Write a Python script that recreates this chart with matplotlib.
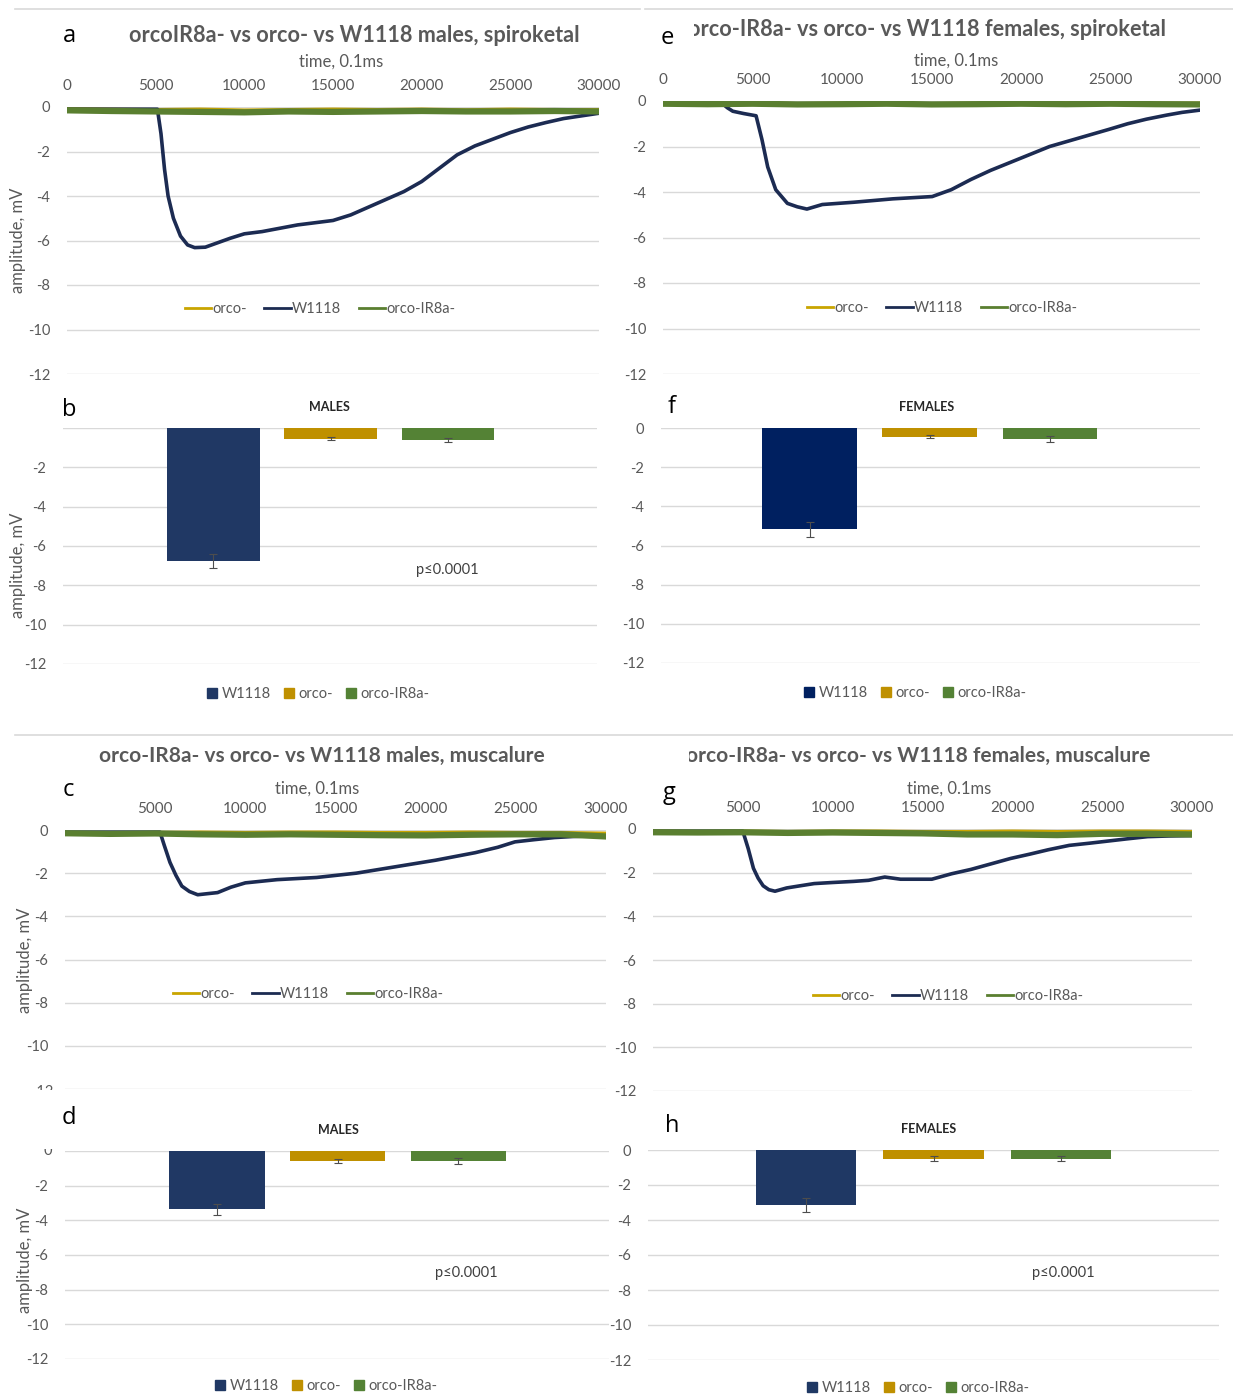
import matplotlib.pyplot as plt
from matplotlib.lines import Line2D
from matplotlib.transforms import Bbox, TransformedBbox

W, H = 1233, 1396
plt.rcParams['font.family'] = ['Lato', 'DejaVu Sans']

NAVY = '#1c2b52'
GOLD = '#c9a500'
GREEN = '#5a7f30'
GREY = '#595959'
GRID = '#d9d9d9'

strains = ['W1118', 'orco-', 'orco-IR8a-']
time_ticks = [0, 5000, 10000, 15000, 20000, 25000, 30000]
amp_ticks = [0, -2, -4, -6, -8, -10, -12]

# control strains stay flat near zero
t_flat = [0, 2500, 5000, 7500, 10000, 12500, 15000, 17500, 20000, 22500, 25000, 27500, 30000]
orco_a = [-0.08, -0.1, -0.12, -0.1, -0.14, -0.12, -0.1, -0.12, -0.1, -0.13, -0.1, -0.12, -0.12]
ir8a_a = [-0.15, -0.18, -0.2, -0.22, -0.24, -0.2, -0.22, -0.2, -0.18, -0.2, -0.2, -0.18, -0.2]
orco_e = [-0.1, -0.1, -0.08, -0.12, -0.1, -0.1, -0.12, -0.1, -0.1, -0.08, -0.1, -0.1, -0.1]
ir8a_e = [-0.12, -0.14, -0.12, -0.15, -0.14, -0.12, -0.15, -0.14, -0.12, -0.14, -0.12, -0.14, -0.15]
orco_c = [-0.12, -0.14, -0.12, -0.1, -0.12, -0.1, -0.1, -0.12, -0.12, -0.1, -0.12, -0.12, -0.15]
ir8a_c = [-0.15, -0.18, -0.16, -0.2, -0.22, -0.2, -0.22, -0.24, -0.25, -0.22, -0.2, -0.2, -0.3]
orco_g = [-0.1, -0.12, -0.1, -0.12, -0.1, -0.1, -0.12, -0.12, -0.1, -0.12, -0.1, -0.1, -0.12]
ir8a_g = [-0.15, -0.16, -0.15, -0.18, -0.16, -0.18, -0.2, -0.25, -0.25, -0.28, -0.22, -0.22, -0.25]

# W1118 responses, males/females x spiroketal/muscalure
t_a = [0, 5100, 5300, 5500, 5700, 6000, 6400, 6800, 7200, 7800, 8500, 9200, 10000, 11000,
       12000, 13000, 14000, 15000, 16000, 17000, 18000, 19000, 20000, 21000, 22000, 23000,
       24000, 25000, 26000, 27000, 28000, 29000, 30000]
v_a = [-0.1, -0.1, -1.2, -2.8, -4.0, -5.0, -5.8, -6.2, -6.32, -6.3, -6.1, -5.9, -5.7, -5.6,
       -5.45, -5.3, -5.2, -5.1, -4.85, -4.5, -4.15, -3.8, -3.35, -2.75, -2.15, -1.75,
       -1.45, -1.15, -0.9, -0.7, -0.52, -0.4, -0.28]

t_e = [0, 3300, 3600, 3900, 4500, 5200, 5530, 5850, 6300, 6950, 7500, 8040, 8900, 10660,
       12850, 15040, 16100, 17200, 18300, 19400, 20500, 21600, 22700, 23800, 24900, 25960,
       27000, 28140, 29000, 30000]
v_e = [-0.1, -0.1, -0.3, -0.45, -0.55, -0.65, -1.7, -2.9, -3.9, -4.5, -4.65, -4.75, -4.55, -4.45,
       -4.3, -4.2, -3.9, -3.45, -3.05, -2.7, -2.35, -2.0, -1.75, -1.5, -1.25, -1.0,
       -0.8, -0.62, -0.5, -0.4]

t_c = [0, 5270, 5500, 5820, 6150, 6480, 6900, 7360, 7900, 8460, 9200, 10000, 11760, 13950,
       16150, 18350, 20550, 22750, 24000, 24950, 26000, 27140, 28200, 29340, 30000]
v_c = [-0.1, -0.1, -0.7, -1.5, -2.1, -2.6, -2.85, -3.0, -2.95, -2.9, -2.65, -2.45, -2.3, -2.2,
       -2.0, -1.7, -1.4, -1.05, -0.8, -0.55, -0.45, -0.35, -0.3, -0.27, -0.3]

t_g = [0, 5000, 5300, 5590, 5850, 6130, 6450, 6790, 7440, 8200, 8970, 10000, 11160, 12000,
       12900, 13780, 14600, 15520, 16620, 17700, 18800, 19900, 20980, 22000, 23170, 24300,
       25350, 26400, 27530, 28700, 30000]
v_g = [-0.1, -0.1, -0.9, -1.8, -2.25, -2.6, -2.78, -2.85, -2.7, -2.6, -2.5, -2.45, -2.4, -2.35,
       -2.2, -2.3, -2.3, -2.3, -2.05, -1.85, -1.6, -1.35, -1.15, -0.95, -0.75, -0.65,
       -0.55, -0.45, -0.35, -0.32, -0.3]

# mean peak amplitudes and errors, order W1118 / orco- / orco-IR8a-
bar_b = [-6.78, -0.54, -0.61]
err_b = [0.35, 0.06, 0.1]
bar_f = [-5.18, -0.44, -0.56]
err_f = [0.37, 0.07, 0.14]
bar_d = [-3.37, -0.58, -0.58]
err_d = [0.3, 0.12, 0.15]
bar_h = [-3.17, -0.49, -0.49]
err_h = [0.4, 0.12, 0.12]

fig = plt.figure(figsize=(W / 100, H / 100), dpi=100)


def box(x0, y0, x1, y1):
    return [x0 / W, 1 - y1 / H, (x1 - x0) / W, (y1 - y0) / H]


def ptext(x, y, s, **kw):
    kw.setdefault('ha', 'center')
    kw.setdefault('va', 'center')
    return fig.text(x / W, 1 - y / H, s, **kw)


def clip(t, x0, y0, x1, y1):
    bb = Bbox.from_extents(x0 / W, 1 - y1 / H, x1 / W, 1 - y0 / H)
    t.set_clip_box(TransformedBbox(bb, fig.transFigure))
    t.set_clip_on(True)


def style(ax, ypad):
    for s in ax.spines.values():
        s.set_visible(False)
    ax.set_ylim(-12, 0)
    ax.set_yticks(amp_ticks)
    ax.grid(axis='y', color=GRID, lw=1)
    ax.set_axisbelow(True)
    ax.tick_params(length=0, colors=GREY, labelsize=10.5)
    ax.tick_params(axis='y', pad=ypad)


def trace(rect, t_w, v_w, orco, ir8a, ylabels, xlabels):
    ax = fig.add_axes(rect)
    ax.plot(t_flat, orco, color=GOLD, lw=2.4, label='orco-')
    ax.plot(t_w, v_w, color=NAVY, lw=2.6, label='W1118')
    ax.plot(t_flat, ir8a, color=GREEN, lw=4.5, label='orco-IR8a-')
    style(ax, 12)
    ax.set_xlim(0, 30000)
    ax.xaxis.tick_top()
    ax.set_xticks(time_ticks, xlabels)
    ax.set_yticklabels(ylabels)
    ax.tick_params(axis='x', pad=10, labelsize=11)
    return ax


def bars(rect, vals, errs, colors, xlim, ylabels):
    ax = fig.add_axes(rect)
    ax.bar(range(3), vals, width=0.79, color=colors, yerr=errs,
           error_kw=dict(ecolor='#4d4d4d', elinewidth=0.8, capsize=3, capthick=0.8))
    style(ax, 12)
    ax.set_xlim(*xlim)
    ax.set_xticks([])
    ax.set_yticklabels(ylabels)
    return ax


def line_legend(ax, x, y):
    h, l = ax.get_legend_handles_labels()
    h = [Line2D([], [], color=hh.get_color(), lw=2) for hh in h]
    fig.legend(h, l, loc='center', bbox_to_anchor=(x / W, 1 - y / H), ncol=3,
               frameon=False, fontsize=10.5, labelcolor=GREY, handlelength=1.8,
               handletextpad=0.1, columnspacing=1.2)


def bar_legend(colors, x, y):
    h = [Line2D([], [], marker='s', ls='none', color=c, markersize=7) for c in colors]
    fig.legend(h, strains, loc='center', bbox_to_anchor=(x / W, 1 - y / H), ncol=3,
               frameon=False, fontsize=10.5, labelcolor=GREY, handlelength=0.7,
               handletextpad=0.3, columnspacing=0.9)


ylab_all = ['0', '-2', '-4', '-6', '-8', '-10', '-12']
xlab_all = ['0', '5000', '10000', '15000', '20000', '25000', '30000']

# a - males, spiroketal
ax_a = trace(box(67, 107, 599, 374), t_a, v_a, orco_a, ir8a_a, ylab_all, xlab_all)
line_legend(ax_a, 320, 309)
ptext(354, 35, 'orcoIR8a- vs orco- vs W1118 males, spiroketal', fontsize=15.6,
      fontweight='bold', color=GREY)
ptext(341, 62, 'time, 0.1ms', fontsize=12, color=GREY)
ptext(18, 240, 'amplitude, mV', fontsize=12, color=GREY, rotation=90)

# e - females, spiroketal
ax_e = trace(box(663, 101, 1200, 374), t_e, v_e, orco_e, ir8a_e, ylab_all, xlab_all)
line_legend(ax_e, 942, 308)
t = ptext(1166, 30, 'orco-IR8a- vs orco- vs W1118 females, spiroketal', fontsize=15.6,
          fontweight='bold', color=GREY, ha='right')
clip(t, 694, 0, 1233, 60)
ptext(956, 61, 'time, 0.1ms', fontsize=12, color=GREY)

# c - males, muscalure
ax_c = trace(box(65, 830, 606, 1089), t_c, v_c, orco_c, ir8a_c,
             ylab_all[:-1] + [''], [''] + xlab_all[1:])
line_legend(ax_c, 308, 994)
ptext(322, 756, 'orco-IR8a- vs orco- vs W1118 males, muscalure', fontsize=15.0,
      fontweight='bold', color=GREY)
ptext(317, 789, 'time, 0.1ms', fontsize=12, color=GREY)
ptext(25, 960, 'amplitude, mV', fontsize=12, color=GREY, rotation=90)
t = ptext(53, 1092, '-12', fontsize=10.5, color=GREY, ha='right')
clip(t, 0, 1080, 120, 1090)

# g - females, muscalure
ax_g = trace(box(653, 829, 1192, 1091), t_g, v_g, orco_g, ir8a_g,
             ylab_all, [''] + xlab_all[1:])
line_legend(ax_g, 948, 996)
t = ptext(1150, 756, 'orco-IR8a- vs orco- vs W1118 females, muscalure', fontsize=15.0,
          fontweight='bold', color=GREY, ha='right')
clip(t, 689, 730, 1233, 780)
ptext(949, 789, 'time, 0.1ms', fontsize=12, color=GREY)

# b - males, spiroketal peak
bars(box(63, 428, 597, 664), bar_b, err_b, ['#203864', '#bf9000', '#548235'],
     (-1.28, 3.27), [''] + ylab_all[1:])
ptext(329, 407, 'MALES', fontsize=9, fontweight='bold', color='#262626')
ptext(447, 570, 'p≤0.0001', fontsize=10.5, color='#404040')
ptext(18, 565, 'amplitude, mV', fontsize=12, color=GREY, rotation=90)
bar_legend(['#203864', '#bf9000', '#548235'], 318, 694)

# f - females, spiroketal peak
bars(box(661, 428, 1200, 663), bar_f, err_f, ['#002060', '#bf9000', '#548235'],
     (-1.24, 3.25), ylab_all)
ptext(927, 407, 'FEMALES', fontsize=9, fontweight='bold', color='#262626')
bar_legend(['#002060', '#bf9000', '#548235'], 915, 693)

# d - males, muscalure peak
bars(box(65, 1151, 609, 1359), bar_d, err_d, ['#203864', '#bf9000', '#548235'],
     (-1.26, 3.25), [''] + ylab_all[1:])
ptext(338, 1130, 'MALES', fontsize=9, fontweight='bold', color='#262626')
ptext(466, 1273, 'p≤0.0001', fontsize=10.5, color='#404040')
ptext(25, 1260, 'amplitude, mV', fontsize=12, color=GREY, rotation=90)
t = ptext(52, 1151, '0', fontsize=10.5, color=GREY, ha='right')
clip(t, 0, 1149, 120, 1170)
bar_legend(['#203864', '#bf9000', '#548235'], 326, 1386)

# h - females, muscalure peak
bars(box(648, 1150, 1219, 1360), bar_h, err_h, ['#1f3864', '#bf9000', '#548235'],
     (-1.24, 3.24), ylab_all)
ptext(929, 1129, 'FEMALES', fontsize=9, fontweight='bold', color='#262626')
ptext(1063, 1273, 'p≤0.0001', fontsize=10.5, color='#404040')
bar_legend(['#1f3864', '#bf9000', '#548235'], 918, 1388)

# panel letters
for x, y, s in [(69, 36, 'a'), (69, 410, 'b'), (68, 790, 'c'), (69, 1118, 'd'),
                (667, 38, 'e'), (672, 407, 'f'), (669, 793, 'g'), (672, 1126, 'h')]:
    ptext(x, y, s, fontsize=17, family=['Open Sans', 'DejaVu Sans'], color='black')

# divider lines between the sections
for x0, x1, y in [(15, 640, 9), (645, 1233, 9), (15, 1233, 735)]:
    fig.add_artist(Line2D([x0 / W, x1 / W], [1 - y / H, 1 - y / H],
                          transform=fig.transFigure, color=GRID, lw=1.2))

fig.savefig('out.png', dpi=100)
